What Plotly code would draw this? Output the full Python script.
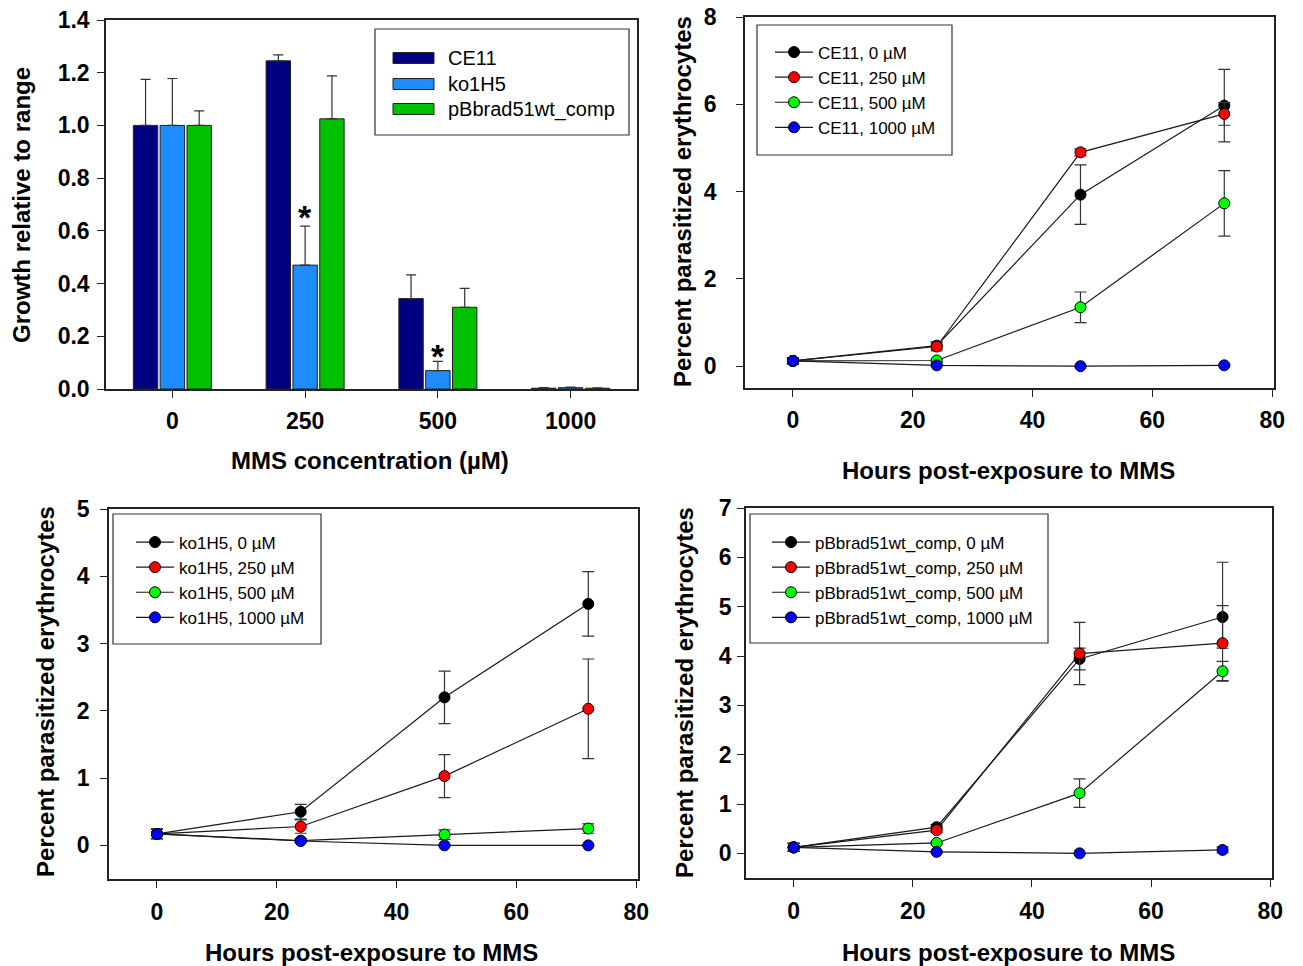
import plotly.graph_objects as go

W, H = 1303, 966

# ---------------- data ----------------
conc_labels = ["0", "250", "500", "1000"]
strains = ["CE11", "ko1H5", "pBbrad51wt_comp"]
bar_colors = ["#000080", "#1E8CFF", "#00C000"]

ce11_growth = [1.0, 1.245, 0.343, 0.003]
ce11_growth_err = [0.175, 0.023, 0.09, 0.002]
ko1h5_growth = [1.0, 0.47, 0.07, 0.005]
ko1h5_growth_err = [0.178, 0.148, 0.035, 0.002]
pb_growth = [1.0, 1.025, 0.31, 0.003]
pb_growth_err = [0.055, 0.163, 0.072, 0.001]

# significance marks (category, y position of the star)
star_cats = ["250", "500"]
star_y = [0.675, 0.148]

hours = [0, 24, 48, 72]
dose_labels = ["0", "250", "500", "1000"]
dose_colors = ["#000000", "#FF0000", "#00FF00", "#0000FF"]

ce11_0 = [0.12, 0.47, 3.93, 5.97]
ce11_0_err = [0.07, 0.08, 0.68, 0.83]
ce11_250 = [0.12, 0.45, 4.90, 5.78]
ce11_250_err = [0.07, 0.10, 0.08, 0.26]
ce11_500 = [0.12, 0.13, 1.35, 3.73]
ce11_500_err = [0.07, 0.03, 0.35, 0.75]
ce11_1000 = [0.12, 0.02, 0.0, 0.02]
ce11_1000_err = [0.07, 0.02, 0.01, 0.02]

ko_0 = [0.17, 0.50, 2.20, 3.59]
ko_0_err = [0.07, 0.11, 0.39, 0.48]
ko_250 = [0.17, 0.28, 1.03, 2.03]
ko_250_err = [0.07, 0.10, 0.32, 0.74]
ko_500 = [0.17, 0.07, 0.16, 0.25]
ko_500_err = [0.07, 0.03, 0.07, 0.07]
ko_1000 = [0.17, 0.065, 0.0, 0.0]
ko_1000_err = [0.07, 0.02, 0.01, 0.01]

pb_0 = [0.12, 0.53, 3.94, 4.79]
pb_0_err_plus = [0.08, 0.05, 0.22, 1.11]
pb_0_err_minus = [0.08, 0.05, 0.22, 0.63]
pb_250 = [0.12, 0.47, 4.05, 4.26]
pb_250_err = [0.08, 0.05, 0.63, 0.76]
pb_500 = [0.12, 0.21, 1.22, 3.69]
pb_500_err = [0.08, 0.03, 0.29, 0.20]
pb_1000 = [0.12, 0.03, 0.0, 0.07]
pb_1000_err = [0.08, 0.02, 0.01, 0.06]

FONT = "Liberation Sans"
TICKFONT = dict(family=FONT, size=23, color="black", weight="bold")
TITLEFONT = dict(family=FONT, size=24, color="black", weight="bold")


def px_x(p):
    return p / W


def px_y(p):
    return 1 - p / H


fig = go.Figure()

# ---------------- panel A: bars ----------------
bar_sets = [
    (ce11_growth, ce11_growth_err),
    (ko1h5_growth, ko1h5_growth_err),
    (pb_growth, pb_growth_err),
]
for name, color, (vals, errs) in zip(strains, bar_colors, bar_sets):
    fig.add_trace(go.Bar(
        x=conc_labels, y=vals, name=name, showlegend=False,
        marker=dict(color=color, line=dict(color="#222222", width=1)),
        error_y=dict(type="data", array=errs, arrayminus=[0] * len(errs),
                     symmetric=False, color="#333333", thickness=1.2, width=5),
        xaxis="x", yaxis="y",
    ))

# ---------------- line panels ----------------
panels = [
    ("CE11", "x2", "y2", "legend2",
     [(ce11_0, ce11_0_err, ce11_0_err), (ce11_250, ce11_250_err, ce11_250_err),
      (ce11_500, ce11_500_err, ce11_500_err), (ce11_1000, ce11_1000_err, ce11_1000_err)]),
    ("ko1H5", "x3", "y3", "legend3",
     [(ko_0, ko_0_err, ko_0_err), (ko_250, ko_250_err, ko_250_err),
      (ko_500, ko_500_err, ko_500_err), (ko_1000, ko_1000_err, ko_1000_err)]),
    ("pBbrad51wt_comp", "x4", "y4", "legend4",
     [(pb_0, pb_0_err_plus, pb_0_err_minus), (pb_250, pb_250_err, pb_250_err),
      (pb_500, pb_500_err, pb_500_err), (pb_1000, pb_1000_err, pb_1000_err)]),
]
LINE = dict(color="#1a1a1a", width=1.2)
for strain, xa, ya, lg, series in panels:
    for i, (dose, col, (vals, ep, em)) in enumerate(zip(dose_labels, dose_colors, series)):
        name = f"{strain}, {dose} µM"
        mk = dict(color=col, size=11, line=dict(color="black", width=1))
        fig.add_trace(go.Scatter(
            x=hours, y=vals, mode="lines+markers", name=name, showlegend=False,
            line=LINE, marker=mk,
            error_y=dict(type="data", array=ep, arrayminus=em, symmetric=False,
                         color="#333333", thickness=1.2, width=6),
            xaxis=xa, yaxis=ya,
        ))
        # legend entry (no data, no error bars)
        fig.add_trace(go.Scatter(
            x=[None], y=[None], mode="lines+markers", name=name, showlegend=True,
            line=LINE, marker=mk, xaxis=xa, yaxis=ya, legend=lg,
            legendgroup=f"{lg}_{i}",
        ))

# ---------------- axes ----------------
def axis_common(**kw):
    d = dict(showline=True, linecolor="#222222", linewidth=1.5, mirror=True,
             ticks="outside", ticklen=7, tickwidth=1.2, tickcolor="#222222",
             showgrid=False, zeroline=False, tickfont=TICKFONT, automargin=False)
    d.update(kw)
    return d

# panel domains (pixels): left, right, top, bottom
dom = {
    1: (106, 637, 20, 389),
    2: (745, 1274, 17, 388),
    3: (109, 638, 509, 879),
    4: (746, 1272, 508, 878),
}

def xd(k):
    l, r, t, b = dom[k]
    return [px_x(l), px_x(r)]

def yd(k):
    l, r, t, b = dom[k]
    return [px_y(b), px_y(t)]

fig.update_layout(
    xaxis=axis_common(domain=xd(1), anchor="y", type="category",
                      range=[-0.5, 3.5], ticklabelstandoff=4),
    yaxis=axis_common(domain=yd(1), anchor="x", range=[0, 1.4], dtick=0.2,
                      tickformat=".1f", ticklabelstandoff=3),
    xaxis2=axis_common(domain=xd(2), anchor="y2", range=[-8, 80.3], dtick=20,
                       ticklabelstandoff=4),
    yaxis2=axis_common(domain=yd(2), anchor="x2", range=[-0.5, 8], dtick=2,
                       ticklabelstandoff=15),
    xaxis3=axis_common(domain=xd(3), anchor="y3", range=[-8, 80.3], dtick=20,
                       ticklabelstandoff=5),
    yaxis3=axis_common(domain=yd(3), anchor="x3", range=[-0.5, 5], dtick=1,
                       ticklabelstandoff=6),
    xaxis4=axis_common(domain=xd(4), anchor="y4", range=[-8, 80.3], dtick=20,
                       ticklabelstandoff=5),
    yaxis4=axis_common(domain=yd(4), anchor="x4", range=[-0.5, 7], dtick=1,
                       ticklabelstandoff=1),
)

# ---------------- titles ----------------
ann = []
def title(text, cx, cy, rot=0):
    ann.append(dict(text=text, x=px_x(cx), y=px_y(cy), xref="paper", yref="paper",
                    showarrow=False, font=TITLEFONT, textangle=rot,
                    xanchor="center", yanchor="middle"))

title("MMS concentration (µM)", 370, 460)
title("Growth relative to range", 22, 205, -90)
title("Hours post-exposure to MMS", 1008, 470)
title("Percent parasitized erythrocytes", 682, 202, -90)
title("Hours post-exposure to MMS", 371, 952)
title("Percent parasitized erythrocytes", 45, 692, -90)
title("Hours post-exposure to MMS", 1008, 952)
title("Percent parasitized erythrocytes", 684, 692, -90)

# significance asterisks (category axis -> use category index)
for cat, yv in zip(star_cats, star_y):
    ann.append(dict(text="*", x=conc_labels.index(cat), y=yv, xref="x", yref="y",
                    showarrow=False,
                    font=dict(family=FONT, size=34, color="black", weight="bold"),
                    xanchor="center", yanchor="middle", yshift=-6))

# ---------------- manual legend for bar panel ----------------
shapes = []
shapes.append(dict(type="rect", xref="paper", yref="paper",
                   x0=px_x(375), x1=px_x(629), y0=px_y(135), y1=px_y(29),
                   line=dict(color="#333333", width=1.2), fillcolor="white"))
for name, color, cy in zip(strains, bar_colors, [58, 84, 109]):
    shapes.append(dict(type="rect", xref="paper", yref="paper",
                       x0=px_x(393), x1=px_x(434), y0=px_y(cy + 5.5), y1=px_y(cy - 5.5),
                       line=dict(color="#222222", width=1), fillcolor=color))
    ann.append(dict(text=name, x=px_x(446), y=px_y(cy), xref="paper", yref="paper",
                    showarrow=False, xanchor="left", yanchor="middle",
                    font=dict(family=FONT, size=20, color="black")))

# boxes for line legends
for (l, r, t, b) in [(757, 952, 25, 155), (113, 321, 514, 644), (750, 1048, 514, 643)]:
    shapes.append(dict(type="rect", xref="paper", yref="paper",
                       x0=px_x(l), x1=px_x(r), y0=px_y(b), y1=px_y(t),
                       line=dict(color="#333333", width=1.2), fillcolor="rgba(0,0,0,0)"))

LEGFONT = dict(family=FONT, size=17, color="black")
def leg(left, top):
    return dict(x=px_x(left), y=px_y(top), xanchor="left", yanchor="top",
                xref="paper", yref="paper", bgcolor="rgba(0,0,0,0)", borderwidth=0,
                font=LEGFONT, tracegroupgap=0, traceorder="normal",
                itemsizing="trace", itemwidth=38)

fig.update_layout(
    width=W, height=H, margin=dict(l=0, r=0, t=0, b=0, autoexpand=False),
    paper_bgcolor="white", plot_bgcolor="white",
    barmode="group", bargap=0.394, bargroupgap=0.09,
    annotations=ann, shapes=shapes,
    showlegend=True,
    legend2=leg(770, 34.5),
    legend3=leg(131, 524.5),
    legend4=leg(767, 524.5),
)

fig.write_html("out.html", config={"displayModeBar": False},
               post_script="document.body.style.margin='0';")
